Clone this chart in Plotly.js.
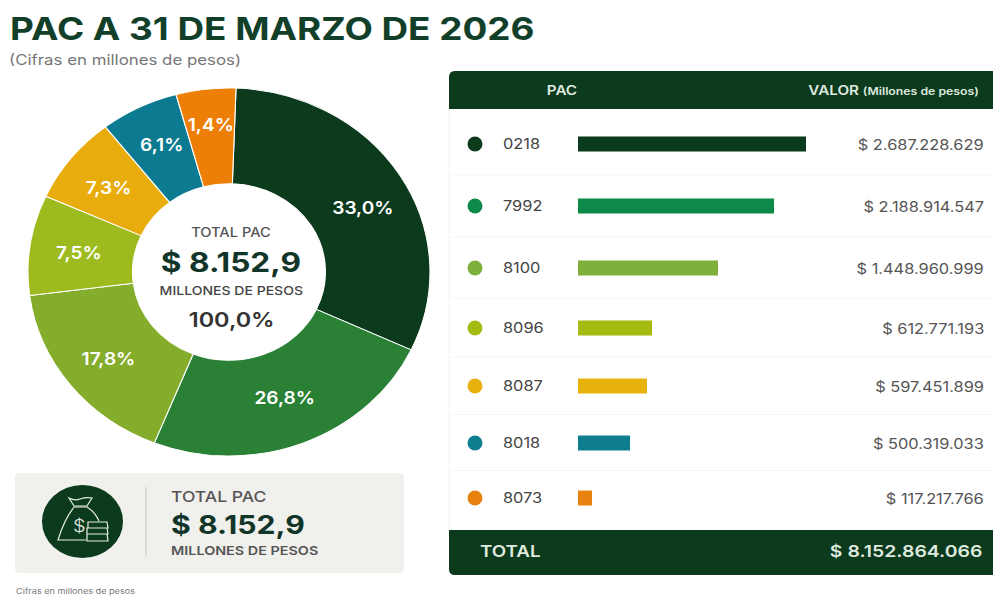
<!DOCTYPE html>
<html><head><meta charset="utf-8">
<script src="https://cdn.plot.ly/plotly-3.0.1.min.js"></script>
<style>html,body{margin:0;padding:0;background:#fff}#c{width:993px;height:597px}</style>
</head><body><div id="c"></div>
<script>
// ---- data ----
const pacCodes = ['0218','7992','8100','8096','8087','8018','8073'];
const pacValues = [2687228629,2188914547,1448960999,612771193,597451899,500319033,117217766];
const sliceLabels = ['33,0%','26,8%','17,8%','7,5%','7,3%','6,1%','1,4%'];
// sizes as drawn in the picture (the drawn slices and bars are not proportional to the printed figures)
const sliceDrawn = [31.4,24.1,16.9,8.8,7.7,6.3,4.8];
const barDrawn = [2687,2310,1650,872,813,613,165];
const totalValue = 8152864066;

// ---- style ----
const font = 'Inter, "Open Sans", sans-serif';
const dark = '#0b3a1d';
const pieColors = ['#0b3a1d','#2a8136','#84ad2c','#9dbb1e','#e8ad0c','#0c7a90','#ee7f06'];
const rowColors = ['#0b3a1d','#0d8a4a','#7fb03c','#a6bb12','#e8b20c','#0f7f90','#e8820f'];
const rowY = [144,206,268,328,386,443,498];
const labelNudge = [[7,7],[1,-1],[-3,3],[6,2],[7,7],[8,10],[2,11]];
const W = 993, H = 597;
const cx = 229, cy = 272, ry = 184, pieStretch = 201/184, textStretch = 1.17, codeLeft = 503;
const fmt = n => '$ ' + String(n).replace(/\B(?=(\d{3})+$)/g,'.');

const traces = [
  {type:'pie', values:sliceDrawn, text:sliceLabels, textinfo:'text', sort:false, direction:'clockwise', rotation:2,
   hole:0.48, marker:{colors:pieColors, line:{color:'#ffffff',width:1}},
   textposition:'inside', insidetextorientation:'horizontal',
   insidetextfont:{family:font,size:17.5,color:'#ffffff',weight:600},
   domain:{x:[(cx-ry)/W,(cx+ry)/W], y:[(H-cy-ry)/H,(H-cy+ry)/H]}, hoverinfo:'skip', showlegend:false},
  {type:'bar', orientation:'h', x:barDrawn, y:rowY, width:15, marker:{color:rowColors}, xaxis:'x', yaxis:'y', hoverinfo:'skip', showlegend:false, cliponaxis:false},
  {type:'scatter', mode:'markers', x:rowY.map(()=>475), y:rowY, xaxis:'x2', yaxis:'y', marker:{size:15,color:rowColors}, hoverinfo:'skip', showlegend:false}
];

const px = {xref:'x2', yref:'y'};
const iconLine = {color:'#e8efe6',width:1.2};
const shapes = [
  // table header, total bar
  {...px,type:'path',path:'M449,109 L449,77 Q449,71 455,71 L993,71 L993,109 Z',fillcolor:dark,line:{width:0},layer:'below'},
  {...px,type:'path',path:'M449,530 L993,530 L993,575 L455,575 Q449,575 449,569 Z',fillcolor:dark,line:{width:0},layer:'below'},
  {...px,type:'line',x0:449,x1:449,y0:109,y1:530,line:{color:'#f2f2f0',width:1},layer:'below'},
  // left summary panel
  {...px,type:'path',path:'M20,473 L399,473 Q404,473 404,478 L404,568 Q404,573 399,573 L20,573 Q15,573 15,568 L15,478 Q15,473 20,473 Z',fillcolor:'#f0f0ec',line:{width:0},layer:'below'},
  {...px,type:'line',x0:146,x1:146,y0:487,y1:557,line:{color:'#d6d6d0',width:1.5},layer:'below'},
  {...px,type:'circle',x0:42,x1:123,y0:485,y1:558,fillcolor:dark,line:{width:0},layer:'below'},
  // money bag icon
  {...px,type:'path',path:'M69,498 Q75,501 80,499 Q86,497 92,498 L87,506 L74,506 Z',line:iconLine,layer:'below'},
  {...px,type:'path',path:'M74,507 L87,507 M74,507 Q64,520 58,540 L86,540 M87,507 Q95,512 99,521',line:iconLine,layer:'below'},
  {...px,type:'path',path:'M88,522 L107,522 L108,528 L88,528 Z M87,528 L107,528 L108,534 L87,534 Z M87,534 L107,534 L108,541 L87,541 Z',line:iconLine,layer:'below'}
];
rowY.slice(0,-1).forEach((y,i)=>{
  const m=(y+rowY[i+1])/2;
  shapes.push({...px,type:'line',x0:450,x1:993,y0:m,y1:m,line:{color:'#f6f6f4',width:1},layer:'below'});
});

const note = (text,x,y,size,color,anchor,weight) => ({...px,text,x,y,showarrow:false,xanchor:anchor||'center',yanchor:'middle',
  font:{family:font,size,color,weight:weight||400}});
const annotations = [
  note('PAC A 31 DE MARZO DE 2026',8,28,31.5,'#123f2a','left',700),
  note('(Cifras en millones de pesos)',7,59,14.4,'#777','left'),
  note('TOTAL PAC',231,232,12.5,'#555','center',500),
  note('$ 8.152,9',231,262,27,'#12352a','center',700),
  note('MILLONES DE PESOS',231,290,12,'#444','center',500),
  note('100,0%',231,320,20,'#333','center',600),
  note('TOTAL PAC',169,496,15,'#555','left',500),
  note('$ 8.152,9',169,524,25.8,'#12352a','left',700),
  note('MILLONES DE PESOS',169,550,12.3,'#555','left',600),
  note('Cifras en millones de pesos',14,591,7.8,'#777','left'),
  note('$',79,526,17,'#e8efe6','center',300),
  note('PAC',562,90,13,'#dfe9df','center',600),
  note('VALOR <span style="font-size:10.5px">(Millones de pesos)</span>',981,90,13,'#dfe9df','right',600),
  note('TOTAL',478,551,16,'#dfe9df','left',600),
  note(fmt(totalValue),984,551,16.6,'#dfe9df','right',600)
];
pacValues.forEach((v,i)=>annotations.push(note(fmt(v),986,rowY[i],14,'#555','right')));

const layout = {
  width:W, height:H, margin:{l:0,r:0,t:0,b:0}, paper_bgcolor:'#fff', plot_bgcolor:'rgba(0,0,0,0)', showlegend:false,
  xaxis:{domain:[578/W,806/W],range:[0,2687],visible:false,fixedrange:true,anchor:'y'},
  xaxis2:{domain:[0,1],range:[0,W],visible:false,fixedrange:true,anchor:'y'},
  yaxis:{domain:[0,1],range:[H,0],anchor:'free',position:546/W,side:'left',tickmode:'array',tickvals:rowY,ticktext:pacCodes,
         showgrid:false,zeroline:false,showline:false,ticks:'',tickfont:{family:font,size:14,color:'#444'},fixedrange:true},
  shapes, annotations
};
// widen a text about one of its edges, as the reference picture is widened
function widen(el, anchor){
  const b = el.getBBox();
  const ax = anchor==='left' ? b.x : anchor==='right' ? b.x+b.width : b.x+b.width/2;
  const had = el.getAttribute('transform') || '';
  el.setAttribute('transform',`${had} translate(${ax},0) scale(${textStretch},1) translate(${-ax},0)`);
}
Plotly.newPlot('c',traces,layout,{staticPlot:true,displayModeBar:false}).then(()=>{
  document.querySelectorAll('.pielayer .trace').forEach(g=>{
    g.setAttribute('transform',`translate(${cx},0) scale(${pieStretch},1) translate(${-cx},0)`);
    g.querySelectorAll('.slice').forEach((s,i)=>{
      const t = s.querySelector('.slicetext text');
      if(!t) return;
      const [dx,dy] = labelNudge[i];
      t.setAttribute('transform',`translate(${dx/pieStretch},${dy}) ${t.getAttribute('transform')||''}`);
    });
  });
  document.querySelectorAll('.annotation').forEach(g=>{
    const i = +g.getAttribute('data-index');
    const t = g.querySelector('text');
    if(t) widen(t, annotations[i].xanchor);
  });
  document.querySelectorAll('.ytick text').forEach(t=>{
    t.setAttribute('text-anchor','start');
    t.setAttribute('x',codeLeft);
    widen(t,'left');
  });
});
</script></body></html>
